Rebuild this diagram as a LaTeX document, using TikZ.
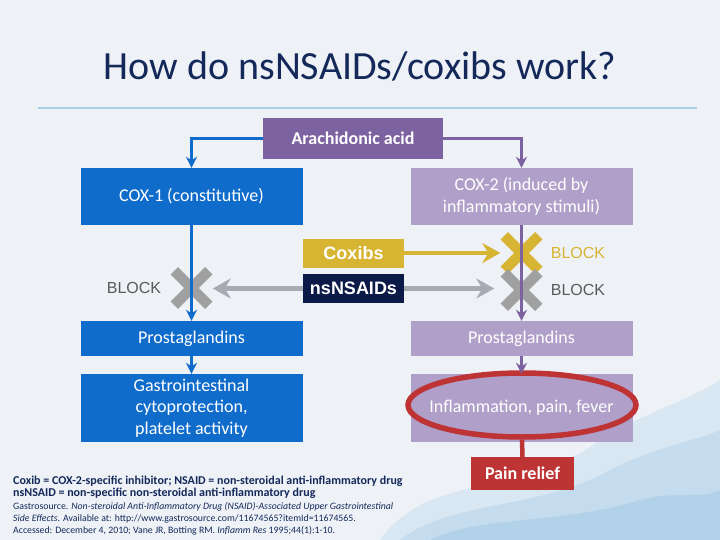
\documentclass[tikz,border=0pt]{standalone}
\usepackage{fontspec}
\setmainfont{Carlito}
\newfontfamily\arialfont{Liberation Sans}
\usetikzlibrary{arrows.meta,shapes.misc,shapes.geometric}

\definecolor{slidebg}{HTML}{EEF2F7}
\definecolor{titlenavy}{HTML}{14285A}
\definecolor{rulecol}{HTML}{A8D0E2}
\definecolor{acidpurple}{HTML}{7D62A1}
\definecolor{coxblue}{HTML}{0F6CCB}
\definecolor{coxlilac}{HTML}{AF9FC9}
\definecolor{coxyellow}{HTML}{D7B431}
\definecolor{drugnavy}{HTML}{0B1A47}
\definecolor{crossgray}{HTML}{A0A0A0}
\definecolor{arrowgray}{HTML}{A9A9B4}
\definecolor{blocktext}{HTML}{595959}
\definecolor{painred}{HTML}{BE3334}
\definecolor{washblue}{HTML}{7DB8DE}

\tikzset{
  box/.style={inner sep=0pt, text=white, align=center, font=\fontsize{18}{21.5}\selectfont},
  leftbox/.style={box, fill=coxblue, minimum width=222pt},
  rightbox/.style={box, fill=coxlilac, minimum width=222pt},
  drugbox/.style={inner sep=0pt, text=white, minimum width=101pt, minimum height=29pt,
    font=\arialfont\bfseries\fontsize{18}{20}\selectfont},
  blocklabel/.style={font=\arialfont\fontsize{16}{18}\selectfont},
  xmark/.style={cross out, draw=#1, line width=10.5pt, minimum size=24pt, inner sep=0pt},
  bluearrow/.style={draw=coxblue, line width=3.5pt, -{Stealth[length=11pt,width=11pt]}},
  lilacarrow/.style={draw=acidpurple, line width=3.5pt, -{Stealth[length=11pt,width=11pt]}},
  drugarrow/.style={draw=#1, line width=4.5pt, -{Stealth[length=18pt,width=20pt,inset=6pt]}}
}

\begin{document}
\begin{tikzpicture}[x=1pt,y=-1pt]
\useasboundingbox (0,0) rectangle (720,540);
\fill[slidebg] (0,0) rectangle (720,540);
% watercolour wash, bottom right
\fill[washblue, opacity=0.18] (380,540) .. controls (430,470) and (520,500) .. (600,440)
  .. controls (650,410) and (690,400) .. (720,380) -- (720,540) -- cycle;
\fill[washblue, opacity=0.22] (400,540) .. controls (450,500) and (540,510) .. (610,470)
  .. controls (660,445) and (700,440) .. (720,430) -- (720,540) -- cycle;
\fill[washblue, opacity=0.25] (430,540) .. controls (480,515) and (560,525) .. (640,500)
  .. controls (680,490) and (700,500) .. (720,490) -- (720,540) -- cycle;

\node[text=titlenavy, font=\fontsize{40}{44}\selectfont] (title) at (360,66) {How do nsNSAIDs/coxibs work?};
\coordinate (ruleL) at (38,108);
\coordinate (ruleR) at (697,108);
\draw[rulecol, line width=2pt] (ruleL) -- (ruleR);

\node[box, fill=acidpurple, minimum width=180pt, minimum height=41pt,
  font=\bfseries\fontsize{18}{21}\selectfont] (acid) at (353,138.5) {Arachidonic acid};
\node[leftbox, minimum height=57pt] (cox1) at (191.5,196.5) {COX-1 (constitutive)};
\node[rightbox, minimum height=57pt] (cox2) at (521.5,196.5) {COX-2 (induced by\\inflammatory stimuli)};

\node[drugbox, fill=coxyellow] (coxibs) at (353.5,253) {Coxibs};
\node[drugbox, fill=drugnavy] (nsaids) at (353.5,288.5) {nsNSAIDs};

\node[xmark=crossgray] (xleft) at (191.5,288) {};
\node[xmark=coxyellow] (xyellow) at (521.5,253) {};
\node[xmark=crossgray] (xgray) at (521.5,290) {};
\node[blocklabel, text=blocktext] (blockL) at (134,288) {BLOCK};
\node[blocklabel, text=coxyellow] (blockY) at (578,253) {BLOCK};
\node[blocklabel, text=blocktext] (blockG) at (578,290) {BLOCK};

\node[leftbox, minimum height=35pt] (prosL) at (191.5,338.5) {Prostaglandins};
\node[rightbox, minimum height=35pt] (prosR) at (521.5,338.5) {Prostaglandins};
\node[leftbox, minimum height=68pt] (gastro) at (191.5,408) {Gastrointestinal\\cytoprotection,\\platelet activity};
\node[rightbox, minimum height=68pt] (inflam) at (521.5,408) {Inflammation, pain, fever};
\node[ellipse, draw=painred, line width=5.5pt, minimum width=228pt, minimum height=64pt] (ring) at (522,405) {};
\node[box, fill=painred, minimum width=103pt, minimum height=33pt,
  font=\bfseries\fontsize{18}{20}\selectfont] (pain) at (522.5,473.5) {Pain relief};

% connectors
\draw[bluearrow] (acid.west) -| (cox1.north);
\draw[lilacarrow] (acid.east) -| (cox2.north);
\draw[bluearrow] (cox1.south) -- (prosL.north);
\draw[lilacarrow] (cox2.south) -- (prosR.north);
\draw[bluearrow] (prosL.south) -- (gastro.north);
\draw[lilacarrow] (prosR.south) -- (inflam.north);
\draw[drugarrow=coxyellow, shorten >=4pt] (coxibs.east) -- (xyellow.west);
\draw[drugarrow=arrowgray, shorten >=4pt] (nsaids.west) -- (nsaids.west -| xleft.east);
\draw[drugarrow=arrowgray, shorten >=10pt] (nsaids.east) -- (nsaids.east -| xgray.west);
\draw[painred, line width=4.5pt] (ring.south) -- (pain.north);

\node[anchor=north west, align=left, text=titlenavy, inner sep=0pt] (notes) at (13,476) {%
  {\bfseries\fontsize{12}{12.5}\selectfont Coxib = COX-2-specific inhibitor; NSAID = non-steroidal anti-inflammatory drug}\\
  {\bfseries\fontsize{12}{12.5}\selectfont nsNSAID = non-specific non-steroidal anti-inflammatory drug}\\[1pt]
  {\fontsize{9.8}{12}\selectfont Gastrosource. \textit{Non-steroidal Anti-Inflammatory Drug (NSAID)-Associated Upper Gastrointestinal}}\\
  {\fontsize{9.8}{12}\selectfont \textit{Side Effects}. Available at: http://www.gastrosource.com/11674565?itemId=11674565.}\\
  {\fontsize{9.8}{12}\selectfont Accessed: December 4, 2010; Vane JR, Botting RM. \textit{Inflamm Res} 1995;44(1):1-10.}};
\end{tikzpicture}
\end{document}
